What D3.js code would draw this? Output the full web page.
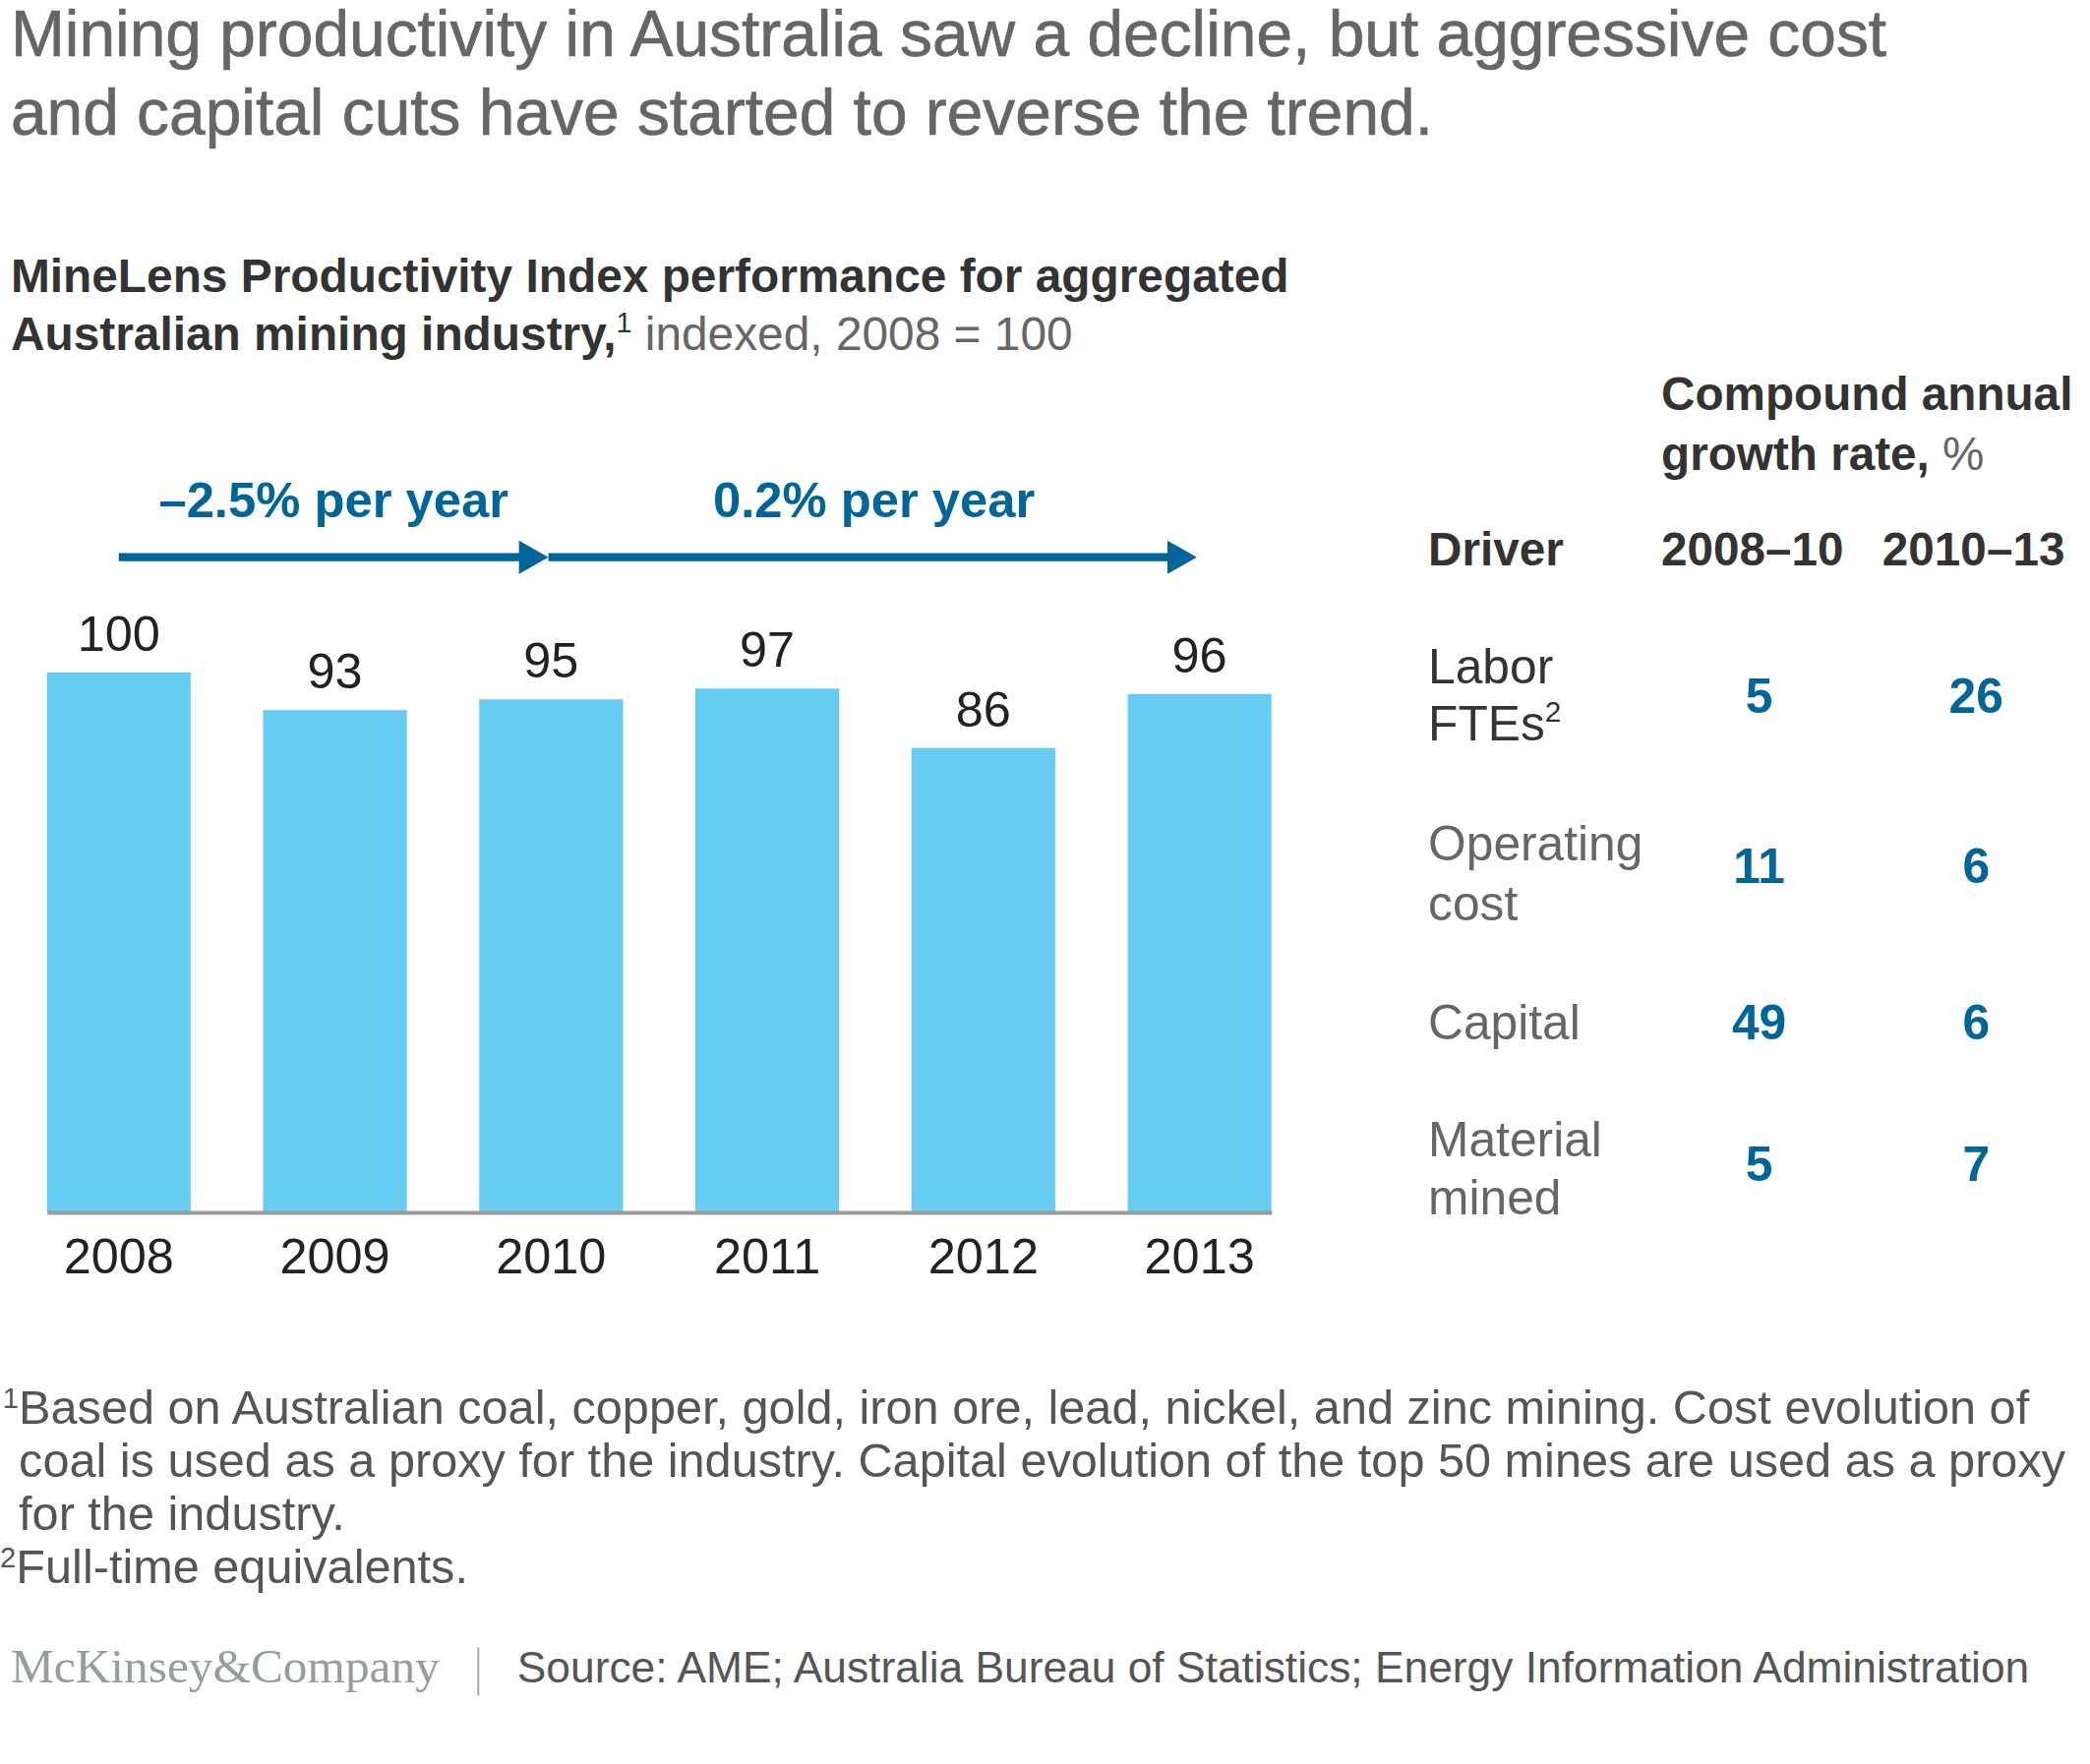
<!DOCTYPE html>
<html><head><meta charset="utf-8">
<script src="https://cdn.jsdelivr.net/npm/d3@7"></script>
<style>html,body{margin:0;padding:0;background:#fff;} svg{display:block}</style>
</head><body>
<svg id="chart" width="2125" height="1794" viewBox="0 0 1560 1317"></svg>
<script>
// ---------------- DATA ----------------
const titleLines = ["Mining productivity in Australia saw a decline, but aggressive cost",
                    "and capital cuts have started to reverse the trend."];
const years = ["2008","2009","2010","2011","2012","2013"];
const productivityIndex = [100, 93, 95, 97, 86, 96];
const periodStart = ["2008","2010"];
const periodEnd = ["2010","2013"];
const periodLabels = ["–2.5% per year","0.2% per year"];
const driverLabels = [["Labor","FTEs"],["Operating","cost"],["Capital"],["Material","mined"]];
const driverSup = ["2","","",""];
const cagrHeaders = ["2008–10","2010–13"];
const cagr2008_10 = [5, 11, 49, 5];
const cagr2010_13 = [26, 6, 6, 7];
const footnoteLines = [
  "Based on Australian coal, copper, gold, iron ore, lead, nickel, and zinc mining. Cost evolution of",
  "coal is used as a proxy for the industry. Capital evolution of the top 50 mines are used as a proxy",
  "for the industry.",
  "Full-time equivalents."
];
const sourceText = "Source: AME; Australia Bureau of Statistics; Energy Information Administration";

// ---------------- LAYOUT ----------------
const FONT = "'Liberation Sans', Arial, Helvetica, sans-serif";
const SERIF = "'Liberation Serif', 'DejaVu Serif', serif";
const BLUE = "#006699", BAR = "#66ccf2";
const svg = d3.select("#chart").attr("font-family", FONT);

function fitWidth(t, w) {
  const cur = t.node().getComputedTextLength();
  const fs = +t.attr("font-size");
  const nf = fs * w / cur;
  t.attr("font-size", nf);
  return nf;
}

// Title (medium weight look)
const t1 = svg.append("text").attr("x", 8).attr("y", 42).attr("font-size", 41)
  .attr("fill", "#666").attr("stroke", "#666").attr("stroke-width", 0.5)
  .text(titleLines[0]);
const fsTitle = fitWidth(t1, 1400);
svg.append("text").attr("x", 8).attr("y", 100.5).attr("font-size", fsTitle)
  .attr("fill", "#666").attr("stroke", "#666").attr("stroke-width", 0.5)
  .text(titleLines[1]);

// Subtitle
const s1 = svg.append("text").attr("x", 8).attr("y", 218).attr("font-size", 34)
  .attr("font-weight", "bold").attr("fill", "#333")
  .text("MineLens Productivity Index performance for aggregated");
const fsSub = fitWidth(s1, 954);
const s2 = svg.append("text").attr("x", 8).attr("y", 261).attr("font-size", fsSub);
s2.append("tspan").attr("font-weight", "bold").attr("fill", "#333").text("Australian mining industry,");
s2.append("tspan").attr("font-size", fsSub * 0.6).attr("dy", -13).attr("fill", "#333").text("1");
s2.append("tspan").attr("dy", 13).attr("fill", "#666").text(" indexed, 2008 = 100");

// Bar chart
const x = d3.scaleBand().domain(years).range([35, 949]).paddingInner(0.335).paddingOuter(0);
const y = d3.scaleLinear().domain([0, 100]).range([905, 502]);
const bw = x.bandwidth();

svg.append("g").selectAll("rect").data(years).join("rect")
  .attr("x", d => x(d)).attr("width", bw)
  .attr("y", (d, i) => y(productivityIndex[i]))
  .attr("height", (d, i) => y(0) - y(productivityIndex[i]))
  .attr("fill", BAR);

svg.append("g").selectAll("text").data(years).join("text")
  .attr("x", d => x(d) + bw / 2)
  .attr("y", (d, i) => y(productivityIndex[i]) - 16)
  .attr("text-anchor", "middle").attr("font-size", 37).attr("fill", "#222")
  .text((d, i) => productivityIndex[i]);

const axis = svg.append("g").attr("transform", `translate(0,${y(0)})`)
  .call(d3.axisBottom(x).tickSize(0).tickPadding(0));
axis.select(".domain").attr("stroke", "#999").attr("stroke-width", 3);
axis.selectAll(".tick text").attr("y", 46).attr("dy", 0)
  .attr("font-size", 37).attr("fill", "#222").attr("font-family", FONT);

// Period arrows
const arrowY = 416;
let fsArrow = 37;
periodLabels.forEach((lab, i) => {
  const x1 = x(periodStart[i]) + bw / 2;
  const x2 = x(periodEnd[i]) + bw / 2 - 2;
  const g = svg.append("g");
  g.append("line").attr("x1", i === 0 ? x1 : x1 - 2).attr("x2", x2 - 18)
    .attr("y1", arrowY).attr("y2", arrowY)
    .attr("stroke", BLUE).attr("stroke-width", 6);
  g.append("path")
    .attr("d", `M${x2 - 22},${arrowY - 12.5} L${x2},${arrowY} L${x2 - 22},${arrowY + 12.5} Z`)
    .attr("fill", BLUE);
  const t = g.append("text").attr("x", (x1 + x2) / 2).attr("y", 386)
    .attr("text-anchor", "middle").attr("font-weight", "bold")
    .attr("font-size", fsArrow).attr("fill", BLUE).text(lab);
  if (i === 0) fsArrow = fitWidth(t, 261);
});

// Table
const tableX = 1066;
const headX = [1240, 1405];
const colX = [1313, 1475];
const h1 = svg.append("text").attr("x", headX[0]).attr("y", 306).attr("font-size", 35)
  .attr("font-weight", "bold").attr("fill", "#333").text("Compound annual");
const fsHead = fitWidth(h1, 307);
const h2 = svg.append("text").attr("x", headX[0]).attr("y", 351).attr("font-size", fsHead);
h2.append("tspan").attr("font-weight", "bold").attr("fill", "#333").text("growth rate,");
h2.append("tspan").attr("fill", "#666").text(" %");
svg.append("text").attr("x", tableX).attr("y", 422).attr("font-size", fsHead)
  .attr("font-weight", "bold").attr("fill", "#333").text("Driver");
svg.append("g").selectAll("text").data(cagrHeaders).join("text")
  .attr("x", (d, i) => headX[i]).attr("y", 422)
  .attr("font-size", fsHead).attr("font-weight", "bold").attr("fill", "#333")
  .text(d => d);

const rowLabelY = [[510, 553], [642, 687], [776], [863, 907]];
const rowValueY = [532, 659, 776, 882];
const fsRow = 36.5;
driverLabels.forEach((lines, r) => {
  const col = r === 0 ? "#333" : "#666";
  lines.forEach((ln, k) => {
    const t = svg.append("text").attr("x", tableX).attr("y", rowLabelY[r][k])
      .attr("font-size", fsRow).attr("fill", col);
    t.append("tspan").text(ln);
    if (k === lines.length - 1 && driverSup[r]) {
      t.append("tspan").attr("font-size", fsRow * 0.6).attr("dy", -14).text(driverSup[r]);
    }
  });
  [cagr2008_10[r], cagr2010_13[r]].forEach((v, c) => {
    svg.append("text").attr("x", colX[c]).attr("y", rowValueY[r])
      .attr("text-anchor", "middle").attr("font-size", fsRow)
      .attr("font-weight", "bold").attr("fill", BLUE).text(v);
  });
});

// Footnotes
const fnY = [1063, 1102.5, 1142, 1182];
const f1 = svg.append("text").attr("x", 14).attr("y", fnY[0]).attr("font-size", 30)
  .attr("fill", "#555").text(footnoteLines[0]);
const fsFn = fitWidth(f1, 1501);
svg.append("text").attr("x", 2).attr("y", fnY[0] - 12).attr("font-size", fsFn * 0.6)
  .attr("fill", "#555").text("1");
[1, 2].forEach(k => svg.append("text").attr("x", 14).attr("y", fnY[k])
  .attr("font-size", fsFn).attr("fill", "#555").text(footnoteLines[k]));
svg.append("text").attr("x", 0).attr("y", fnY[3] - 12).attr("font-size", fsFn * 0.6)
  .attr("fill", "#555").text("2");
svg.append("text").attr("x", 12).attr("y", fnY[3]).attr("font-size", fsFn)
  .attr("fill", "#555").text(footnoteLines[3]);

// Logo + source
const logo = svg.append("text").attr("x", 8).attr("y", 1256).attr("font-size", 36)
  .attr("font-family", SERIF).attr("fill", "#969e9a").text("McKinsey&Company");
fitWidth(logo, 320);
svg.append("line").attr("x1", 357).attr("x2", 357).attr("y1", 1230).attr("y2", 1266)
  .attr("stroke", "#aaa").attr("stroke-width", 1.5);
const src = svg.append("text").attr("x", 386).attr("y", 1256).attr("font-size", 30)
  .attr("fill", "#555").text(sourceText);
fitWidth(src, 1129);
</script>
</body></html>
